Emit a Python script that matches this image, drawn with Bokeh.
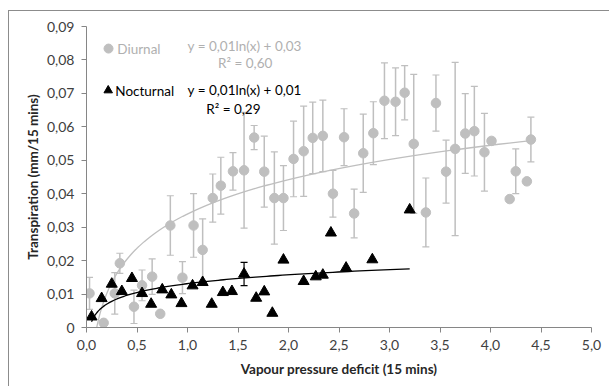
import numpy as np
from bokeh.plotting import figure
from bokeh.models import Whisker, ColumnDataSource, FixedTicker, TeeHead, Range1d
from bokeh.core.properties import value
from bokeh.embed import file_html
from bokeh.resources import INLINE

# ---------------- data ----------------
diurnal_x = [0.03, 0.17, 0.28, 0.33, 0.47, 0.55, 0.65, 0.73, 0.83, 0.95,
             1.06, 1.15, 1.25, 1.33, 1.45, 1.56, 1.66, 1.76, 1.86, 1.95,
             2.05, 2.15, 2.24, 2.34, 2.44, 2.55, 2.65, 2.74, 2.84, 2.95,
             3.06, 3.15, 3.24, 3.36, 3.46, 3.56, 3.65, 3.75, 3.84, 3.94,
             4.01, 4.19, 4.25, 4.36, 4.40]
diurnal_y = [0.0102, 0.0014, 0.0102, 0.0192, 0.0062, 0.0126, 0.0152, 0.0041, 0.0305, 0.0149,
             0.0305, 0.0232, 0.0387, 0.0424, 0.0467, 0.0470, 0.0568, 0.0466, 0.0387, 0.0387,
             0.0504, 0.0527, 0.0567, 0.0573, 0.0400, 0.0569, 0.0341, 0.0521, 0.0581, 0.0678,
             0.0675, 0.0702, 0.0549, 0.0344, 0.0671, 0.0466, 0.0534, 0.0580, 0.0587, 0.0524,
             0.0558, 0.0384, 0.0467, 0.0437, 0.0562]
diurnal_err = [0.0048, 0.0, 0.0062, 0.0030, 0.0050, 0.0046, 0.0053, 0.0, 0.0089, 0.0048,
               0.0095, 0.0093, 0.0072, 0.0085, 0.0056, 0.0173, 0.0036, 0.0106, 0.0138, 0.0097,
               0.0113, 0.0135, 0.0107, 0.0107, 0.0070, 0.0085, 0.0073, 0.0117, 0.0094, 0.0113,
               0.0101, 0.0081, 0.0208, 0.0103, 0.0084, 0.0094, 0.0259, 0.0119, 0.0134, 0.0116,
               0.0, 0.0, 0.0067, 0.0, 0.0067]

nocturnal_x = [0.05, 0.15, 0.25, 0.35, 0.45, 0.55, 0.64, 0.75, 0.84, 0.94,
               1.05, 1.15, 1.24, 1.35, 1.44, 1.56, 1.68, 1.76, 1.84, 1.95,
               2.15, 2.27, 2.34, 2.42, 2.57, 2.83, 3.20]
nocturnal_y = [0.0032, 0.0087, 0.0130, 0.0108, 0.0147, 0.0102, 0.0070, 0.0113, 0.0098, 0.0072,
               0.0125, 0.0135, 0.0070, 0.0105, 0.0108, 0.0160, 0.0088, 0.0107, 0.0043, 0.0202,
               0.0138, 0.0152, 0.0157, 0.0283, 0.0178, 0.0203, 0.0352]
nocturnal_err = [0, 0, 0, 0, 0, 0, 0, 0, 0, 0,
                 0, 0, 0, 0, 0, 0.0035, 0, 0, 0, 0,
                 0, 0, 0, 0, 0, 0, 0]

series_names = ["Diurnal", "Nocturnal"]
trend_labels = ["y = 0,01ln(x) + 0,03", "y = 0,01ln(x) + 0,01"]
r2_labels = ["R² = 0,60", "R² = 0,29"]

x_ticks = [0.0, 0.5, 1.0, 1.5, 2.0, 2.5, 3.0, 3.5, 4.0, 4.5, 5.0]
x_tick_labels = ["0,0", "0,5", "1,0", "1,5", "2,0", "2,5", "3,0", "3,5", "4,0", "4,5", "5,0"]
y_ticks = [0, 0.01, 0.02, 0.03, 0.04, 0.05, 0.06, 0.07, 0.08, 0.09]
y_tick_labels = ["0", "0,01", "0,02", "0,03", "0,04", "0,05", "0,06", "0,07", "0,08", "0,09"]

x_title = "Vapour pressure deficit (15 mins)"
y_title = "Transpiration (mm/15 mins)"

# ---------------- styling ----------------
FONT = "Lato"
GRAY = "#bfbfbf"
AXIS = "#868686"
FS = "13.5px"
TFS = "14px"

p = figure(width=601, height=376,
           x_range=Range1d(0, 5), y_range=Range1d(0, 0.09),
           output_backend="svg", toolbar_location=None,
           min_border_left=77, min_border_top=15, min_border_right=19, min_border_bottom=60,
           margin=(10, 0, 0, 8),
           styles={"border-left": "1px solid #8c8c8c", "border-top": "1px solid #8c8c8c"})
p.outline_line_color = None
p.xgrid.visible = False
p.ygrid.visible = False
p.background_fill_color = "white"
p.border_fill_color = "white"

for ax, ticks, labels in ((p.xaxis[0], x_ticks, x_tick_labels), (p.yaxis[0], y_ticks, y_tick_labels)):
    ax.ticker = FixedTicker(ticks=ticks)
    ax.major_label_overrides = {t: l for t, l in zip(ticks, labels)}
    ax.axis_line_color = AXIS
    ax.major_tick_line_color = AXIS
    ax.minor_tick_line_color = None
    ax.major_tick_out = 5
    ax.major_tick_in = 0
    ax.major_label_text_font = FONT
    ax.major_label_text_font_size = TFS
    ax.major_label_text_color = "#404040"
    ax.major_label_standoff = 7
    ax.axis_label_text_font = FONT
    ax.axis_label_text_font_size = FS
    ax.axis_label_text_font_style = "bold"
    ax.axis_label_text_color = "#262626"

p.xaxis.axis_label = x_title
p.yaxis.axis_label = y_title
p.xaxis.axis_label_standoff = 8
p.yaxis.axis_label_standoff = 3

# ---------------- trend lines (log fits of the data) ----------------
def log_fit(xs, ys):
    a, b = np.polyfit(np.log(xs), ys, 1)
    return a, b

dx = np.array(diurnal_x); dy = np.array(diurnal_y)
nx = np.array(nocturnal_x); ny = np.array(nocturnal_y)
da, db = log_fit(dx, dy)
na, nb = log_fit(nx, ny)
tx_d = np.geomspace(dx.min(), dx.max(), 200)
tx_n = np.geomspace(nx.min(), nx.max(), 200)
p.line(tx_d, da * np.log(tx_d) + db, line_color=GRAY, line_width=1.3)
p.line(tx_n, na * np.log(tx_n) + nb, line_color="black", line_width=1.3)

# ---------------- error bars ----------------
de = np.array(diurnal_err)
m = de > 0
src_de = ColumnDataSource(dict(x=dx[m], upper=dy[m] + de[m], lower=dy[m] - de[m]))
p.add_layout(Whisker(base="x", upper="upper", lower="lower", source=src_de,
                     line_color=GRAY, line_width=1.5,
                     upper_head=TeeHead(size=7, line_color=GRAY, line_width=1.2),
                     lower_head=TeeHead(size=7, line_color=GRAY, line_width=1.2)))
ne = np.array(nocturnal_err)
mn = ne > 0
src_ne = ColumnDataSource(dict(x=nx[mn], upper=ny[mn] + ne[mn], lower=ny[mn] - ne[mn]))
p.add_layout(Whisker(base="x", upper="upper", lower="lower", source=src_ne,
                     line_color="black", line_width=1.2,
                     upper_head=TeeHead(size=7, line_color="black", line_width=1.2),
                     lower_head=TeeHead(size=7, line_color="black", line_width=1.2)))

# ---------------- points ----------------
p.scatter(dx, dy, marker="circle", size=9.5, fill_color=GRAY, line_color=GRAY)
p.scatter(nx, ny, marker="triangle", size=11, fill_color="black", line_color="black")

# ---------------- legend & equations ----------------
p.scatter([0.218], [0.0834], marker="circle", size=9, fill_color=GRAY, line_color=GRAY)
p.text([0.305], [0.0834], text=[series_names[0]], text_font=value(FONT), text_font_size=FS,
       text_color="#b0b0b0", text_baseline="middle", text_align="left")
p.scatter([0.215], [0.0709], marker="triangle", size=8.5, fill_color="black", line_color="black")
p.text([0.285], [0.0707], text=[series_names[1]], text_font=value(FONT), text_font_size=FS,
       text_color="black", text_baseline="middle", text_align="left")

p.text([1.566], [0.0843], text=[trend_labels[0]], text_font=value(FONT), text_font_size=FS,
       text_color="#b0b0b0", text_baseline="middle", text_align="center")
p.text([1.571], [0.0790], text=[r2_labels[0]], text_font=value(FONT), text_font_size=FS,
       text_color="#b0b0b0", text_baseline="middle", text_align="center")
p.text([1.566], [0.0711], text=[trend_labels[1]], text_font=value(FONT), text_font_size=FS,
       text_color="black", text_baseline="middle", text_align="center")
p.text([1.454], [0.0654], text=[r2_labels[1]], text_font=value(FONT), text_font_size=FS,
       text_color="black", text_baseline="middle", text_align="center")

open("out.html", "w").write(file_html(p, INLINE))
